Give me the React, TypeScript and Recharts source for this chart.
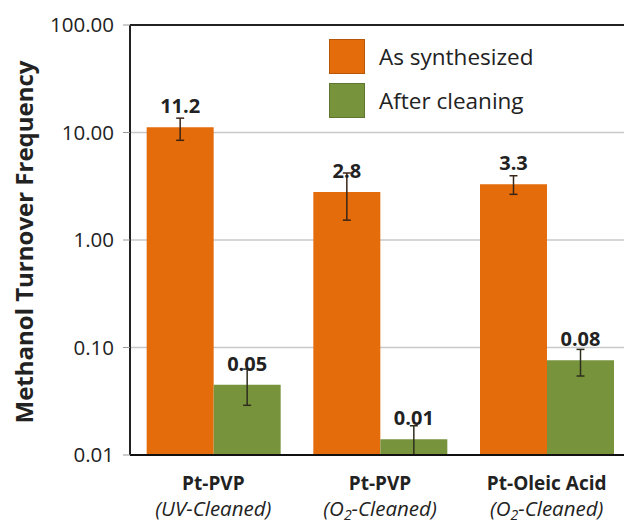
import React from 'react';
import {
  BarChart,
  Bar,
  XAxis,
  YAxis,
  CartesianGrid,
  ErrorBar,
  LabelList,
  Legend,
  Label,
  ReferenceLine,
} from 'recharts';

const categories = ['Pt-PVP', 'Pt-PVP', 'Pt-Oleic Acid'];
const cleaning = ['UV-Cleaned', 'O2-Cleaned', 'O2-Cleaned'];
const asSynthesized = [11.2, 2.8, 3.3];
const afterCleaning = [0.045, 0.014, 0.076];
const asSynthesizedErr = [[2.74, 2.4], [1.27, 1.4], [0.64, 0.66]];
const afterCleaningErr = [[0.016, 0.018], [0.004, 0.0047], [0.0217, 0.02]];
const asSynthesizedLabels = ['11.2', '2.8', '3.3'];
const afterCleaningLabels = ['0.05', '0.01', '0.08'];
const yTicks = [0.01, 0.1, 1, 10, 100];
const seriesOrder = ['As synthesized', 'After cleaning'];

const orange = '#E46C0A';
const green = '#77933C';
const font = '"Open Sans", sans-serif';
const textColor = '#222';

const data = categories.map((name, i) => ({
  name,
  synth: asSynthesized[i],
  synthErr: asSynthesizedErr[i],
  synthLabel: asSynthesizedLabels[i],
  clean: afterCleaning[i],
  cleanErr: afterCleaningErr[i],
  cleanLabel: afterCleaningLabels[i],
}));

// two-line category label, the O2 gets a subscript
const CategoryTick = ({ x, y, payload, index }: any) => {
  const sub = cleaning[index] || '';
  const hasO2 = sub.startsWith('O2');
  return (
    <g transform={`translate(${x},${y})`}>
      <text textAnchor="middle" y={27} fontFamily={font} fontSize={19} fontWeight={700} fill={textColor}>
        {payload.value}
      </text>
      <text textAnchor="middle" y={53} fontFamily={font} fontSize={20.5} fontStyle="italic" fill={textColor}>
        {hasO2 ? (
          <>
            <tspan>(O</tspan>
            <tspan dy={4} fontSize={14}>2</tspan>
            <tspan dy={-4}>{sub.slice(2)})</tspan>
          </>
        ) : (
          `(${sub})`
        )}
      </text>
    </g>
  );
};

const LegendBox = ({ payload }: any) => {
  const items = [...(payload || [])].sort(
    (a: any, b: any) => seriesOrder.indexOf(a.value) - seriesOrder.indexOf(b.value)
  );
  return (
    <div style={{ fontFamily: font, fontSize: 22.5, color: textColor }}>
      {items.map((p: any) => (
        <div key={p.value} style={{ display: 'flex', alignItems: 'center', height: 44 }}>
          <span
            style={{
              display: 'inline-block',
              width: 36,
              height: 35,
              background: p.color,
              border: '1px solid rgba(0,0,0,0.2)',
              boxSizing: 'border-box',
              marginRight: 14,
            }}
          />
          {p.value}
        </div>
      ))}
    </div>
  );
};

export default function App() {
  return (
    <div style={{ position: 'fixed', left: 0, top: 0, width: 624, height: 523, overflow: 'hidden', background: '#fff' }}>
      <BarChart
        width={640}
        height={523}
        data={data}
        margin={{ top: 25, right: 10, bottom: 0, left: 0 }}
        barCategoryGap="10%"
        barGap={0}
      >
        <CartesianGrid vertical={false} stroke="#c8c8c8" strokeWidth={1.5} />
        <XAxis
          dataKey="name"
          allowDuplicatedCategory
          height={68}
          axisLine={{ stroke: '#111', strokeWidth: 2 }}
          tickLine={false}
          tick={<CategoryTick />}
          interval={0}
        />
        <YAxis
          scale="log"
          domain={[0.01, 100]}
          ticks={yTicks}
          allowDataOverflow
          width={130}
          axisLine={{ stroke: '#222', strokeWidth: 2 }}
          tickLine={{ stroke: '#999' }}
          tickSize={7}
          tickMargin={9}
          tickFormatter={(v: number) => v.toFixed(2)}
          tick={{ fontFamily: font, fontSize: 20.5, fill: textColor }}
        >
          <Label
            content={({ viewBox }: any) => {
              const cx = 23;
              const cy = viewBox.y + viewBox.height / 2 + 2;
              return (
                <text
                  x={cx}
                  y={cy}
                  transform={`rotate(-90, ${cx}, ${cy})`}
                  textAnchor="middle"
                  dominantBaseline="central"
                  fontFamily={font}
                  fontSize={24}
                  fontWeight={700}
                  fill={textColor}
                >
                  Methanol Turnover Frequency
                </text>
              );
            }}
          />
        </YAxis>
        <ReferenceLine y={100} stroke="#222" strokeWidth={2} />
        <Legend
          layout="vertical"
          verticalAlign="middle"
          align="center"
          content={<LegendBox />}
          wrapperStyle={{ left: 329, top: 34, width: 280 }}
        />
        <Bar dataKey="synth" name="As synthesized" fill={orange} isAnimationActive={false}>
          <ErrorBar dataKey="synthErr" width={4} stroke="#3a2516" strokeWidth={1.5} direction="y" />
          <LabelList
            dataKey="synthLabel"
            position="top"
            offset={14}
            style={{ fontFamily: font, fontSize: 20, fontWeight: 700, fill: textColor }}
          />
        </Bar>
        <Bar dataKey="clean" name="After cleaning" fill={green} isAnimationActive={false}>
          <ErrorBar dataKey="cleanErr" width={4} stroke="#2e2e1e" strokeWidth={1.5} direction="y" />
          <LabelList
            dataKey="cleanLabel"
            position="top"
            offset={14}
            style={{ fontFamily: font, fontSize: 20, fontWeight: 700, fill: textColor }}
          />
        </Bar>
      </BarChart>
    </div>
  );
}
